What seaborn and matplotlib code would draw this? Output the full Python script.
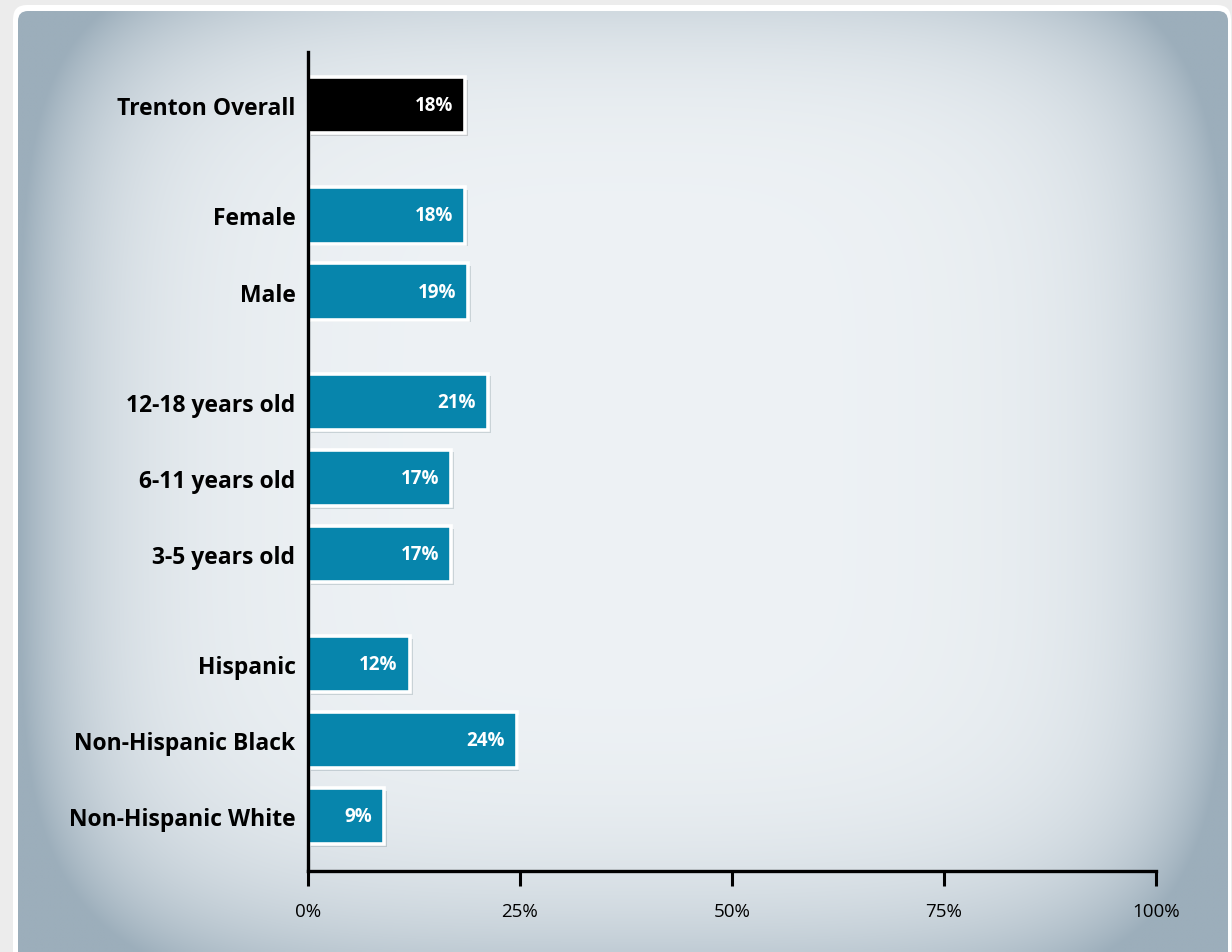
import numpy as np
import pandas as pd
import matplotlib
matplotlib.use("Agg")
import matplotlib.pyplot as plt
import matplotlib.patheffects as pe
from matplotlib.patches import FancyBboxPatch
import seaborn as sns

# ---- data ----
categories = ["Trenton Overall", "Female", "Male", "12-18 years old", "6-11 years old",
              "3-5 years old", "Hispanic", "Non-Hispanic Black", "Non-Hispanic White"]
values = [18.5, 18.5, 18.9, 21.2, 16.9, 16.9, 12.0, 24.6, 9.0]
value_labels = ["18%", "18%", "19%", "21%", "17%", "17%", "12%", "24%", "9%"]
groups = [0, 1, 1, 2, 2, 2, 3, 3, 3]
kinds = ["overall", "sub", "sub", "sub", "sub", "sub", "sub", "sub", "sub"]
x_ticks = [0, 25, 50, 75, 100]
x_tick_labels = ["0%", "25%", "50%", "75%", "100%"]

GROUP_GAP = 0.45
positions = [i + g * GROUP_GAP for i, g in enumerate(groups)]
df = pd.DataFrame({"category": categories, "value": values, "pos": positions, "kind": kinds})

W, H = 1232, 953
fig = plt.figure(figsize=(W / 100, H / 100), dpi=100)
fig.patch.set_facecolor("#ececec")

# ---- background frame and vignette panel ----
bg = fig.add_axes([0, 0, 1, 1], zorder=-5)
bg.axis("off")
frame = FancyBboxPatch((13, 6), W - 14, H + 20, boxstyle="round,pad=0,rounding_size=14",
                       facecolor="white", edgecolor="none", zorder=1,
                       path_effects=[pe.SimplePatchShadow(offset=(0, -1), shadow_rgbFace="#c8c8c8", alpha=0.6), pe.Normal()])
bg.add_patch(frame)
panel = FancyBboxPatch((18, 12), 1228 - 18, H + 20, boxstyle="round,pad=0,rounding_size=10",
                       facecolor="none", edgecolor="none", transform=bg.transData)
bg.add_patch(panel)
ny, nx = 300, 400
u = np.linspace(-1, 1, nx)
v = np.linspace(-1, 1, ny)
U, V = np.meshgrid(u, v)
t = np.clip(0.75 * np.abs(U) ** 9 + 0.25 * np.abs(U) ** 3
            + np.where(V > 0, 0.55 * V ** 5, 0.35 * np.abs(V) ** 7)
            + 0.5 * (np.abs(U) * np.abs(V)) ** 4, 0, 1)
center = np.array([0xee, 0xf2, 0xf5]) / 255
edge = np.array([0x9c, 0xae, 0xbb]) / 255
img = center[None, None, :] * (1 - t[..., None]) + edge[None, None, :] * t[..., None]
im = bg.imshow(img, extent=(18, 1228, H, 12), aspect="auto", interpolation="bilinear", zorder=3)
im.set_clip_path(panel)
bg.set_xlim(0, W)
bg.set_ylim(H, 0)

# ---- main chart ----
ax = fig.add_axes([308 / W, 1 - 872 / H, (1156 - 308) / W, (872 - 53) / H])
ax.patch.set_alpha(0)
sns.barplot(data=df, x="value", y="pos", hue="kind", orient="h", native_scale=True,
            palette={"overall": "#000000", "sub": "#0785ac"}, saturation=1, width=0.74,
            edgecolor="white", linewidth=2.6, legend=False, ax=ax, zorder=2)
for p in ax.patches:
    p.set_path_effects([pe.SimplePatchShadow(offset=(2, -2), alpha=0.15), pe.Normal()])

ax.set_xlim(0, 100)
ax.set_ylim(10.07, -0.70)
ax.set_yticks(positions)
ax.set_yticklabels(categories, fontfamily="Open Sans", fontweight="bold", fontsize=16.5, color="black")
ax.set_xticks(x_ticks)
ax.set_xticklabels(x_tick_labels, fontfamily="Open Sans", fontsize=13.5, color="black")
ax.tick_params(axis="y", length=0, pad=9)
ax.tick_params(axis="x", length=11, width=2.2, color="black", pad=11, direction="out")
ax.set_xlabel("")
ax.set_ylabel("")
for s in ["top", "right"]:
    ax.spines[s].set_visible(False)
for s in ["left", "bottom"]:
    ax.spines[s].set_linewidth(2.4)
    ax.spines[s].set_color("black")
    ax.spines[s].set_zorder(5)
ax.grid(False)

for pos, val, lab in zip(positions, values, value_labels):
    ax.annotate(lab, xy=(val, pos), xytext=(-12, 0), textcoords="offset pixels",
                ha="right", va="center", color="white", fontfamily="Open Sans",
                fontweight="bold", fontsize=13.5, zorder=6)

fig.savefig("out.png", dpi=100, facecolor=fig.get_facecolor())
